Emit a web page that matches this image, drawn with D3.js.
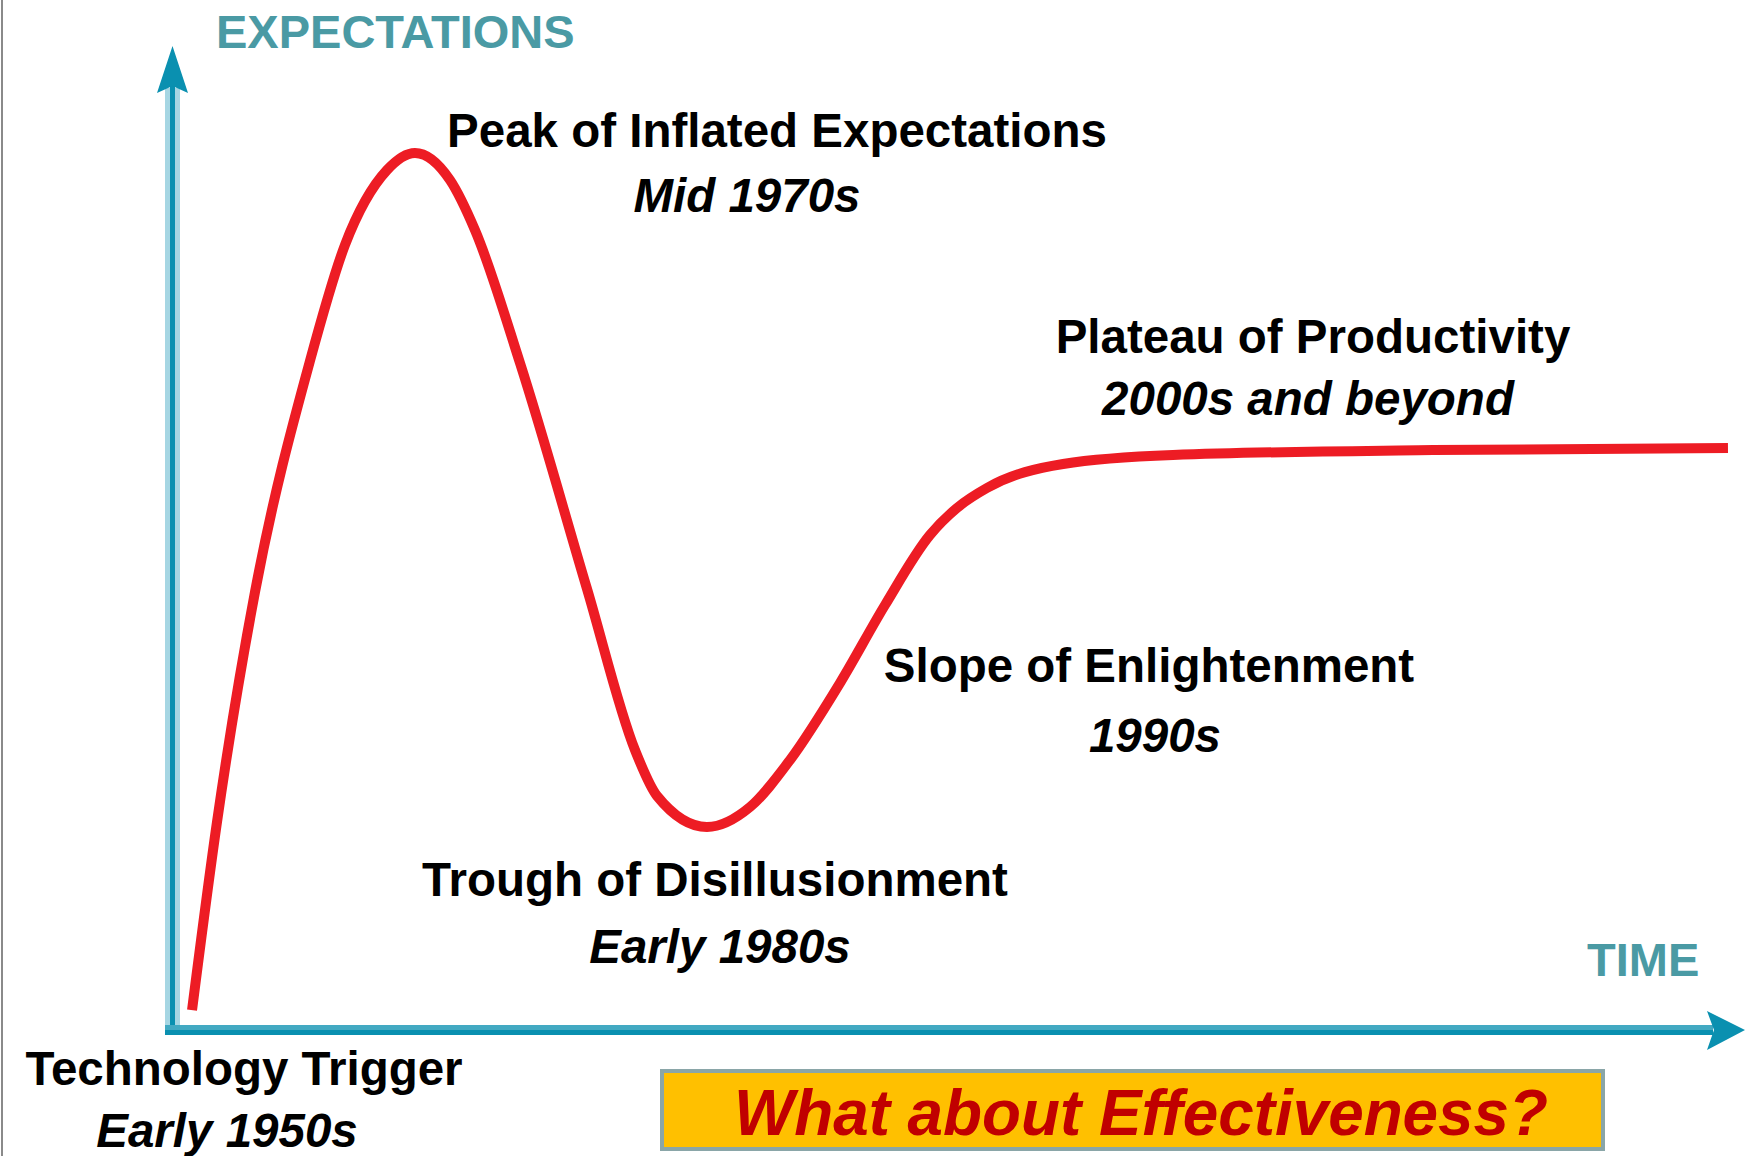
<!DOCTYPE html>
<meta charset="utf-8">
<style>
body { margin: 0; background: #fff; }
text { font-family: "Liberation Sans", Arial, sans-serif; font-weight: bold; }
</style>
<body>
<script src="https://d3js.org/d3.v7.min.js"></script>
<script>

var width = 1754,
    height = 1156;

// hype curve: time 0-100, expectations 0-100
var time = [1.34, 2.93, 5.35, 8.85, 11.08, 13.76, 15.54, 17.77, 19.36, 22.23, 26.5, 29.55,
            30.96, 34.14, 36.88, 39.43, 42.61, 45.48, 48.34, 50.06, 51.97, 56.82, 63.82, 80.38, 99.17];
var expectation = [2.03, 21.14, 44.51, 67.99, 79.78, 87.4, 89.13, 86.38, 81.3, 67.78, 44.82, 28.46,
            23.78, 20.63, 22.66, 27.44, 35.26, 43.19, 50.3, 53.05, 55.08, 57.52, 58.43, 58.94, 59.15];

// phase labels
var phaseNames = ["Peak of Inflated Expectations", "Plateau of Productivity",
                  "Slope of Enlightenment", "Trough of Disillusionment", "Technology Trigger"];
var phaseDates = ["Mid 1970s", "2000s and beyond", "1990s", "Early 1980s", "Early 1950s"];
var phaseX = [777, 1313, 1149, 715, 244];
var phaseY = [147, 353, 682, 896, 1085];
var dateX = [747, 1308, 1155, 720, 227];
var dateY = [212, 415, 752, 963, 1147];

var x = d3.scaleLinear().domain([0, 100]).range([171, 1741]);
var y = d3.scaleLinear().domain([0, 100]).range([1030, 46]);

var svg = d3.select("body").append("svg")
    .attr("width", width)
    .attr("height", height);

// left frame edge
svg.append("line")
    .attr("x1", 2).attr("x2", 2).attr("y1", 0).attr("y2", height)
    .attr("stroke", "#8a8a8a").attr("stroke-width", 2);

// axes
svg.append("rect").attr("x", 165).attr("y", 88).attr("width", 15).attr("height", 947)
    .attr("fill", "#a6d6e3");
svg.append("rect").attr("x", 170).attr("y", 80).attr("width", 5).attr("height", 955)
    .attr("fill", "#0a90b0");
svg.append("rect").attr("x", 165).attr("y", 1025).attr("width", 1548).attr("height", 5)
    .attr("fill", "#42a9c2");
svg.append("rect").attr("x", 165).attr("y", 1030).attr("width", 1548).attr("height", 5)
    .attr("fill", "#0a90b0");

svg.append("path")
    .attr("d", "M172.5,46 L188,93 L172.5,86 L157,93 Z")
    .attr("fill", "#0a90b0");
svg.append("path")
    .attr("d", "M1745,1030 L1707,1011 L1714,1030 L1707,1050 Z")
    .attr("fill", "#0a90b0");

svg.append("text").attr("x", 216).attr("y", 48)
    .attr("font-size", 47).attr("fill", "#4a9aa4").text("EXPECTATIONS");
svg.append("text").attr("x", 1587).attr("y", 976)
    .attr("font-size", 47).attr("fill", "#4a9aa4").text("TIME");

// the curve
var line = d3.line()
    .x(function(d){ return x(d[0]); })
    .y(function(d){ return y(d[1]); })
    .curve(d3.curveMonotoneX);

svg.append("path")
    .datum(d3.zip(time, expectation))
    .attr("d", line)
    .attr("fill", "none")
    .attr("stroke", "#ed1c24")
    .attr("stroke-width", 10);

// labels
svg.selectAll(".phase").data(phaseNames)
  .enter().append("text")
    .attr("class", "phase")
    .attr("x", function(d, i){ return phaseX[i]; })
    .attr("y", function(d, i){ return phaseY[i]; })
    .attr("text-anchor", "middle")
    .attr("font-size", 47.5)
    .text(function(d){ return d; });

svg.selectAll(".date").data(phaseDates)
  .enter().append("text")
    .attr("class", "date")
    .attr("x", function(d, i){ return dateX[i]; })
    .attr("y", function(d, i){ return dateY[i]; })
    .attr("text-anchor", "middle")
    .attr("font-size", 47.5)
    .attr("font-style", "italic")
    .text(function(d){ return d; });

// question box
svg.append("rect")
    .attr("x", 662).attr("y", 1071).attr("width", 941).attr("height", 78)
    .attr("fill", "#ffc000").attr("stroke", "#8aa6a8").attr("stroke-width", 4);
svg.append("text")
    .attr("x", 734).attr("y", 1135)
    .attr("font-size", 65).attr("font-style", "italic")
    .attr("fill", "#c00000")
    .attr("textLength", 814).attr("lengthAdjust", "spacingAndGlyphs")
    .text("What about Effectiveness?");

</script>
